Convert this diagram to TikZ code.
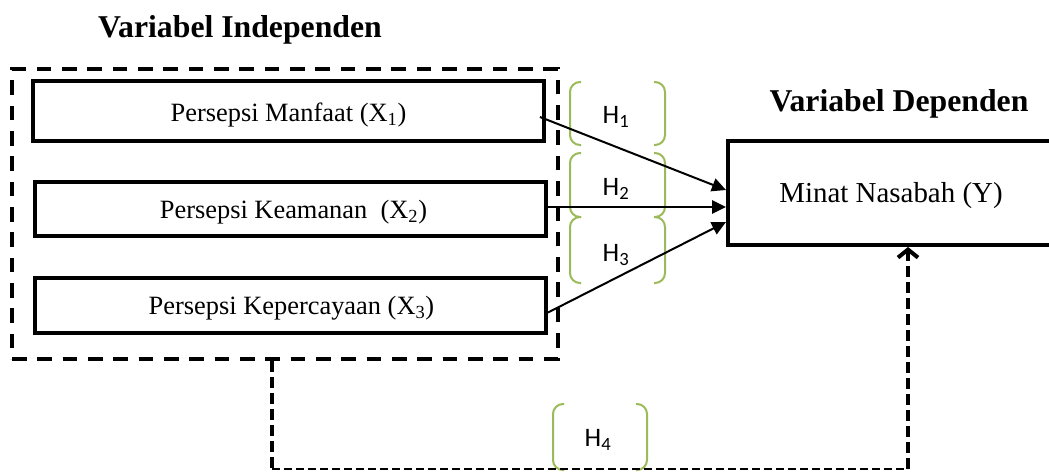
\documentclass[tikz,border=0pt]{standalone}
\usepackage{fontspec}
\setmainfont{Liberation Serif}
\newfontfamily\hfont{Carlito}
\usetikzlibrary{arrows.meta,calc,fit}
\definecolor{brgreen}{HTML}{9BBB59}
\tikzset{
  box/.style={draw=black, line width=3pt, inner sep=0pt},
  txt/.style={font=\fontsize{19.8}{22}\selectfont},
  ybox/.style={draw=black, line width=3pt, inner sep=0pt},
  group/.style={draw=black, line width=3pt, dash pattern=on 11pt off 8pt, inner sep=0pt},
  head/.style={font=\fontsize{23.8}{26}\selectfont\bfseries, anchor=base},
  hlab/.style={font=\hfont\fontsize{20}{22}\selectfont, anchor=base},
  hyp/.style={line width=1.5pt, -{Triangle[length=10.5pt,width=10pt]}},
  vdash/.style={line width=3pt, dash pattern=on 8pt off 4pt},
  hdash/.style={line width=1.5pt, dash pattern=on 6pt off 3pt},
  brace/.style={draw=brgreen, line width=1.5pt, rounded corners=7.5pt}
}
\newcommand\brpair[4]{%
  \draw[brace] (#1+11,#2) -- (#1,#2) -- (#1,#4) -- (#1+11,#4);
  \draw[brace] (#3-11,#2) -- (#3,#2) -- (#3,#4) -- (#3-11,#4);}
\begin{document}
\begin{tikzpicture}[x=0.75pt,y=-0.75pt]
\useasboundingbox (0,0) rectangle (1049,472);
\clip (0,0) rectangle (1049,472);
% headings
\node[head] (hi) at (240,37) {Variabel Independen};
\node[head] (hd) at (899,111) {Variabel Dependen};
% group and boxes
\node[group, fit={(12,69) (558,359)}] (iv) {};
\node[box, fit={(33,81) (544,141)}] (b1) {};
\node[txt] (t1) at ($(b1.center)+(0,4)$) {Persepsi Manfaat (X\textsubscript{1})};
\node[box, fit={(35,182) (546,236)}] (b2) {};
\node[txt] (t2) at ($(b2.center)+(3,3)$) {Persepsi Keamanan\ \ (X\textsubscript{2})};
\node[box, fit={(35,278) (546,333)}] (b3) {};
\node[txt] (t3) at ($(b3.center)+(1,3)$) {Persepsi Kepercayaan (X\textsubscript{3})};
% dependent
\node[ybox, fit={(728,141) (1054,245)}] (m) {};
\node[font=\fontsize{21.7}{24}\selectfont] (mt) at ($(m.center)+(0,3)$) {Minat Nasabah (Y)};
% brackets and labels
\brpair{570}{82}{665}{145}
\brpair{570}{153}{665}{217}
\brpair{570}{217}{665}{283}
\brpair{553}{404}{647}{470}
\node[hlab] (h1) at (616,123) {H\textsubscript{1}};
\node[hlab] (h2) at (616,195) {H\textsubscript{2}};
\node[hlab] (h3) at (616,261) {H\textsubscript{3}};
\node[hlab] (h4) at (598,446) {H\textsubscript{4}};
% hypothesis arrows
\draw[hyp] ($(b1.east)+(-6,6)$) -- ($(m.west)+(0,-3)$);
\draw[hyp] ($(b2.east)+(-4,-2)$) -- ($(m.west)+(0,14)$);
\draw[hyp] ($(b3.east)+(0,7)$) -- ($(m.west)+(0,29)$);
% H4 connector
\coordinate (c1) at (272,469);
\coordinate (c2) at (908,469);
\draw[vdash] (iv.south -| c1) -- (c1);
\draw[hdash] (c1) -- (c2);
\draw[vdash, -{Straight Barb[length=6pt,width=15pt]}] (c2) -- (m.south -| c2);
\end{tikzpicture}
\end{document}
